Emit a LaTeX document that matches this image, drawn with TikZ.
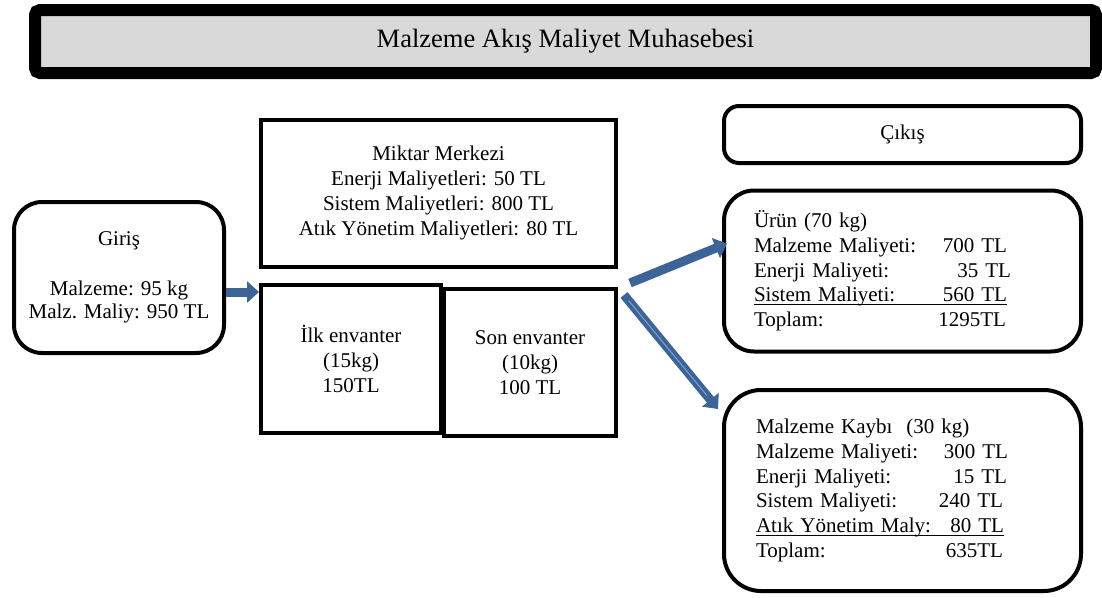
\documentclass[tikz,border=0pt]{standalone}
\usepackage{fontspec}
\setmainfont{Liberation Serif}
\usetikzlibrary{arrows.meta,calc}

\definecolor{flowblue}{HTML}{3C6496}
\definecolor{flowlight}{HTML}{7FA0CC}
\definecolor{titlegray}{HTML}{D9D9D9}

% one cost line: label on the left, amount pushed to the right edge
\newcommand\costrow[3]{\makebox[#1][l]{#2\hfill#3}}
% the same, with a rule under the whole line
\newcommand\costline[3]{\makebox[#1][l]{\rlap{\rule[-3.2pt]{#1}{1.2pt}}#2\hfill#3}}

\tikzset{
  box/.style={draw, line width=4pt, inner sep=0pt, align=center,
              font=\fontsize{21}{24.7}\selectfont},
  roundbox/.style={box, rounded corners=#1},
  flow/.style={draw=flowblue, line width=9pt,
               -{Triangle[width=21pt,length=12pt]}},
  stripe/.style={draw=flowlight, line width=1pt},
}

\begin{document}
\begin{tikzpicture}[x=1pt,y=-1pt]
  \fill[white] (0,0) rectangle (1102,597);
  \useasboundingbox (0,0) rectangle (1102,597);

  % heading bar
  \node[draw, fill=titlegray, line width=12pt, rounded corners=5pt,
        minimum width=1061pt, minimum height=63pt, inner sep=0pt,
        font=\fontsize{26.5}{30}\selectfont] (title) at (565.5,41.5)
        {Malzeme Akış Maliyet Muhasebesi};

  % input
  \node[roundbox=28pt, minimum width=210pt, minimum height=151pt,
        font=\fontsize{21}{22.5}\selectfont] (giris) at (119,277.5)
        {Giriş\\[27.5pt]Malzeme: 95 kg\\Malz. Maliy: 950 TL};

  % quantity centre and inventories
  \node[box, minimum width=355pt, minimum height=147pt] (miktar) at (438.5,193)
        {Miktar Merkezi\\Enerji Maliyetleri: 50 TL\\Sistem Maliyetleri: 800 TL\\Atık Yönetim Maliyetleri: 80 TL};
  \node[box, minimum width=180pt, minimum height=148pt] (ilk) at (351,359)
        {İlk envanter\\(15kg)\\150TL};
  \node[box, minimum width=172pt, minimum height=147pt] (son) at (530,362.5)
        {Son envanter\\(10kg)\\100 TL};

  % outputs
  \node[roundbox=15pt, minimum width=357pt, minimum height=57pt] (cikis) at (902.5,134.5)
        {Çıkış};
  \node[roundbox=30pt, minimum width=357pt, minimum height=161pt,
        text width=297pt, align=left] (urun) at (902.5,271)
        {Ürün (70 kg)\\
         \costrow{253pt}{Malzeme Maliyeti:}{700 TL}\\
         \costrow{257pt}{Enerji Maliyeti:}{35 TL}\\
         \costline{253pt}{Sistem Maliyeti:}{560 TL}\\
         \costrow{252pt}{Toplam:}{1295TL}};
  \node[roundbox=37pt, minimum width=357pt, minimum height=201pt,
        text width=293pt, align=left] (kayip) at (902.5,490.5)
        {Malzeme Kaybı\ \ (30 kg)\\
         \costrow{252pt}{Malzeme Maliyeti:}{300 TL}\\
         \costrow{251pt}{Enerji Maliyeti:}{15 TL}\\
         \costrow{247pt}{Sistem Maliyeti:}{240 TL}\\
         \costline{248pt}{Atık Yönetim Maly:}{80 TL}\\
         \costrow{247pt}{Toplam:}{635TL}};

  % flow arrows
  \coordinate (a1e) at ([yshift=-9pt]ilk.north west);
  \draw[flow] (giris.east |- a1e) -- (a1e);

  \coordinate (a2s) at ([shift={(12pt,4pt)}]son.north east);
  \coordinate (a2e) at ([shift={(5pt,27.5pt)}]urun.west);
  \draw[flow] (a2s) -- (a2e);

  \coordinate (a3s) at ([shift={(6pt,-8pt)}]son.north east);
  \coordinate (a3e) at ([shift={(-4pt,-21pt)}]kayip.north west);
  \draw[flow] (a3s) -- (a3e);
  \draw[stripe] ($(a3s)!0.05!(a3e)$) -- ($(a3s)!0.88!(a3e)$);
\end{tikzpicture}
\end{document}
